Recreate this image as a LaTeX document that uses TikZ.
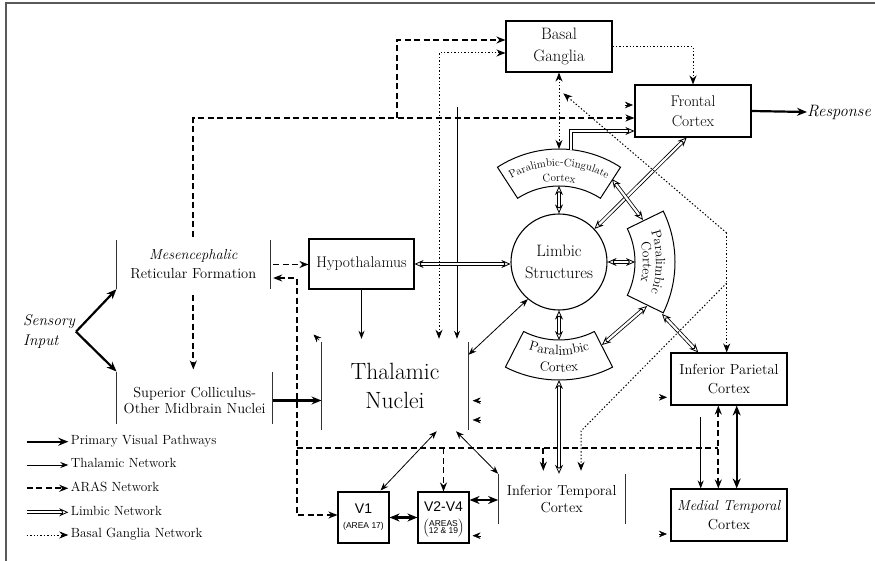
\documentclass[tikz,border=0pt]{standalone}
\usepackage{fontspec}
\newfontfamily\arialish{Liberation Sans}
\usetikzlibrary{arrows.meta,decorations.text,calc}
\newcommand\fmain{\fontsize{14.5}{19}\selectfont}
\newcommand\fbig{\fontsize{23.5}{29}\selectfont}
\newcommand\fleg{\fontsize{13.3}{16}\selectfont}
\newcommand\fcing{\fontsize{11}{13}\selectfont}
\newcommand\fpara{\fontsize{13.5}{15}\selectfont}
\newcommand\fvbig{\arialish\fontsize{14}{16}\selectfont}
\newcommand\fvsmall{\arialish\fontsize{8.5}{9.5}\selectfont}

\begin{document}
\begin{tikzpicture}[x=1pt,y=-1pt,
  >={Stealth[length=9pt,width=7pt]},
  box/.style={draw, line width=1.1pt, inner sep=0pt, align=center, font=\fmain},
  vbox/.style={draw, line width=1.1pt, inner sep=0pt, align=center,
    minimum width=51pt, minimum height=51pt},
  barbox/.style={inner sep=0pt, align=center, font=\fmain},
  barline/.style={line width=1pt, black!80},
  vis/.style={line width=2.2pt, -{Stealth[length=10pt,width=8pt]}},
  visb/.style={line width=2.2pt, {Stealth[length=10pt,width=8pt]}-{Stealth[length=10pt,width=8pt]}},
  thl/.style={line width=0.8pt, -{Stealth[length=8pt,width=6pt]}},
  thlb/.style={line width=0.8pt, {Stealth[length=8pt,width=6pt]}-{Stealth[length=8pt,width=6pt]}},
  aras/.style={line width=1.7pt, dash pattern=on 6pt off 3.5pt},
  limb/.style={double, double distance=2.2pt, line width=0.8pt},
  limbtip/.style={-{Stealth[open,length=9pt,width=8pt]}},
  limbtips/.style={{Stealth[open,length=9pt,width=8pt]}-{Stealth[open,length=9pt,width=8pt]}},
  bgn/.style={line width=1pt, dash pattern=on 1.4pt off 2pt},
  lone/.style={-{Stealth[length=8pt,width=6.5pt]}},
  sector/.style={draw, line width=1pt},
  legtext/.style={anchor=west, font=\fleg, inner sep=0pt, text height=1.6ex, text depth=.3ex},
]
\useasboundingbox (0,0) rectangle (875,561);
\fill[white] (0,0) rectangle (875,561);
% frame
\draw[black!65, line width=1.5pt] (6,561) -- (6,3) -- (875,3);

% ---------- boxes ----------
\node[box, minimum width=106pt, minimum height=51pt, font=\fontsize{16.5}{22}\selectfont] (bg) at (559,46.5) {Basal\\Ganglia};
\node[box, minimum width=116pt, minimum height=52pt, font=\fontsize{15.5}{19.5}\selectfont] (fc) at (693,111) {Frontal\\Cortex};
\node[box, minimum width=105pt, minimum height=50pt, font=\fontsize{15.5}{19}\selectfont] (hyp) at (361.5,264) {Hypothalamus};
\node[box, minimum width=116pt, minimum height=52pt] (ipc) at (729,379) {Inferior Parietal\\Cortex};
\node[box, minimum width=116pt, minimum height=52pt] (mtc) at (729,515) {\textit{Medial Temporal}\\Cortex};
\node[vbox] (v1) at (363.5,517.5) {{\fvbig V1}\\[3pt]{\fvsmall (AREA 17)}};
\node[vbox] (v24) at (443.5,517.5) {};
\node[inner sep=0pt, font=\fvbig] (v24a) at (443.5,507) {V2-V4};
\node[inner sep=0pt, font=\fvsmall] (v24b) at (443.5,528.5)
  {$\left(\begin{tabular}{@{}c@{}}AREAS\\[-2.5pt]12 \& 19\end{tabular}\right)$};
\node[draw, circle, line width=1.1pt, minimum size=96pt, inner sep=0pt, align=center, font=\fontsize{16.5}{22}\selectfont] (lim) at (559,262) {Limbic\\Structures};

% ---------- bracketed regions ----------
\node[barbox, minimum width=153.3pt, minimum height=49pt] (mrf) at (193.3,264.5) {\textit{Mesencephalic}\\Reticular Formation};
\node[barbox, minimum width=156pt, minimum height=51.6pt] (sc) at (194.7,397.5) {};
\node[barbox, font=\fontsize{14.5}{16}\selectfont] (sct) at (194.7,400.5) {Superior Colliculus-\\Other Midbrain Nuclei};
\node[barbox, minimum width=146.6pt, minimum height=88pt, font=\fbig] (thal) at (395,386) {Thalamic\\Nuclei};
\node[barbox, minimum width=126.7pt, minimum height=50pt, font=\fontsize{14.5}{17.5}\selectfont] (itc) at (561.7,499) {Inferior Temporal\\Cortex};
\foreach \n in {mrf,sc,thal,itc}
  \draw[barline] (\n.north west) -- (\n.south west) (\n.north east) -- (\n.south east);

% ---------- free labels ----------
\node[anchor=west, align=left, inner sep=0pt, font=\fontsize{15.5}{20}\selectfont\itshape] (si) at (23,331.7) {Sensory\\Input};
\node[anchor=west, inner sep=0pt, font=\fontsize{16.5}{18}\selectfont\itshape] (resp) at (807,112) {Response};

% ---------- paralimbic sectors ----------
\begin{scope}[shift={(559,262)}]
  \draw[sector] (-57:113) arc[start angle=-57, end angle=-123, radius=113]
     -- (-123:76) arc[start angle=-123, end angle=-57, radius=76] -- cycle;
  \draw[sector] (-26:116) arc[start angle=-26, end angle=26, radius=116]
     -- (26:76) arc[start angle=26, end angle=-26, radius=76] -- cycle;
  \draw[sector] (117:118) arc[start angle=117, end angle=63, radius=118]
     -- (63:78) arc[start angle=63, end angle=117, radius=78] -- cycle;
  \path[decorate, decoration={text along path, text align=center,
      text={|\fcing|Paralimbic-Cingulate}}]
      (-132:96) arc[start angle=-132, end angle=-48, radius=96];
  \path[decorate, decoration={text along path, text align=center,
      text={|\fcing|Cortex}}]
      (-120:80.5) arc[start angle=-120, end angle=-60, radius=80.5];
  \path[decorate, decoration={text along path, text align=center,
      text={|\fpara|Paralimbic}}]
      (-40:97) arc[start angle=-40, end angle=40, radius=97];
  \path[decorate, decoration={text along path, text align=center,
      text={|\fpara|Cortex}}]
      (-40:84) arc[start angle=-40, end angle=40, radius=84];
  \path[decorate, decoration={text along path, text align=center,
      text={|\fpara|Paralimbic}}]
      (125:93) arc[start angle=125, end angle=55, radius=93];
  \path[decorate, decoration={text along path, text align=center,
      text={|\fpara|Cortex}}]
      (120:110) arc[start angle=120, end angle=60, radius=110];
\end{scope}
\coordinate (cinT) at (559,149);
\coordinate (cinB) at (559,186);
\coordinate (cinF) at (571,149.6);
\coordinate (cinR) at (612,179);
\coordinate (rsL) at (635,262);
\coordinate (rsT) at (643,220);
\coordinate (rsB1) at (647,306);
\coordinate (rsB2) at (662,314);
\coordinate (bsT) at (559,340);
\coordinate (bsB) at (559,380);
\coordinate (bsR) at (602,345);

% ---------- primary visual pathways ----------
\coordinate (sin) at (76,331.7);
\draw[vis] (sin) -- (sc.north west);
\draw[vis] (sin) -- (mrf.south west);
\draw[vis] (sc.east |- sct) -- (sct -| thal.west);
\draw[visb] (v1.east) -- (v24.east -| v24.west);
\coordinate (vy) at (0,500);
\draw[visb] (v24.east |- vy) -- (itc.west |- vy);
\coordinate (kx) at (736.7,0);
\draw[visb] (kx |- ipc.south) -- (kx |- mtc.north);
\draw[vis] (fc.east) -- (resp.west);

% ---------- thalamic network ----------
\draw[thl, shorten >=3pt] (hyp.south) -- (hyp.south |- thal.north);
\coordinate (tt) at (457,107);
\draw[thl, shorten >=3pt] (tt) -- (tt |- thal.north);
\draw[thlb] (lim.230) -- ([yshift=-13pt]thal.north east);
\draw[thlb] ([xshift=41.7pt,yshift=-1pt]thal.south) -- ([xshift=-9pt,yshift=1pt]v1.north east);
\draw[thlb] ([xshift=61pt,yshift=-1pt]thal.south) -- (itc.north west);
\coordinate (tm) at (700.7,417);
\draw[thl] (tm) -- (tm |- mtc.north);

% ---------- ARAS network ----------
\draw[aras, ->, shorten <=3pt] (mrf.north) |- ([yshift=-7pt]fc.west);
\coordinate (j1) at (397,118);
\draw[aras, ->] (j1) |- ([yshift=6.5pt]bg.west);
\draw[aras, ->, shorten <=6pt, shorten >=2pt] (mrf.south) -- (mrf.south |- sc.north);
\draw[aras, ->, shorten <=3pt] (mrf.east) -- (mrf.east -| hyp.west);
\coordinate (mrfR) at ([xshift=3pt]mrf.east);
\coordinate (ax) at (296.7,278);
\coordinate (v1in) at ([yshift=2.5pt]v1.west);
\draw[aras, <->] (mrfR |- ax) -- (ax) -- (ax |- v1in) -- (v1in);
\coordinate (hy) at (0,448.3);
\coordinate (hR) at (718.3,448.3);
\draw[aras] (ax |- hy) -- (hR);
\draw[aras, ->] (v24.north |- hy) -- (v24.north);
\coordinate (hI) at (543.3,448.3);
\draw[aras, ->, shorten >=3pt] (hI) -- (hI |- itc.north);
\draw[aras, <->] (hR |- ipc.south) -- (hR |- mtc.north);

% ---------- limbic network ----------
\draw[limb, limbtips] (hyp.east) -- (lim.west |- hyp.east);
\draw[limb, limbtips] (cinB) -- (lim.north);
\draw[limb, limbtip] (cinF) |- ([yshift=-20pt]fc.west);
\draw[limb, limbtips] (lim.43) -- ([xshift=-6.3pt]fc.south);
\draw[limb, limbtips] (cinR) -- (rsT);
\draw[limb, limbtips] (lim.east) -- (rsL);
\draw[limb, limbtips] (rsB1) -- (bsR);
\draw[limb, limbtips] (rsB2) -- ([xshift=-30.7pt]ipc.north);
\draw[limb, limbtips] (lim.south) -- (bsT);
\draw[limb, limbtips] (bsB) -- (bsB |- itc.north);

% ---------- basal ganglia network ----------
\draw[bgn, ->] (bg.east) -| (fc.north);
\draw[bgn, <->, shorten >=3pt] ([yshift=-6.5pt]bg.west) -| ([xshift=44pt]thal.north);
\draw[bgn, <->] (bg.south) -- (cinT);
\coordinate (dbg) at (563.3,93.3);
\coordinate (dj1) at (726.7,233);
\coordinate (dj2) at (726.7,283);
\coordinate (dk) at (581,431);
\draw[bgn, ->] (dj1) -- (dbg);
\draw[bgn, ->] (dj1) -- (dj1 |- ipc.north);
\draw[bgn, ->, shorten >=3pt] (dj2) -- (dk) -- (dk |- itc.north);

% ---------- loose arrowheads ----------
\coordinate (sa1) at (313.5,334.5);
\draw[lone] ($(sa1)+(5.66,5.66)$) -- (sa1);
\foreach \p in {(472.7,400.7),(472.7,420),(472.5,535.7)}
  \draw[lone] \p ++(8,0) -- \p;
\foreach \p in {(667,397.3),(667,534),(633,105)}
  \draw[lone] \p ++(-8,0) -- \p;

% ---------- legend ----------
\foreach \y/\s/\t in {441.7/vis/Primary Visual Pathways, 465/thl/Thalamic Network}
  {\coordinate (la) at (26.7,\y); \coordinate (lb) at (68.3,\y);
   \draw[\s] (la) -- (lb); \node[legtext] at (70.7,\y) {\t};}
\coordinate (la3) at (26.7,488.3); \coordinate (lb3) at (68.3,488.3);
\draw[aras, ->] (la3) -- (lb3);
\node[legtext] (lt3) at (70.7,488.3) {ARAS Network};
\coordinate (la4) at (26.7,512.3); \coordinate (lb4) at (68.3,512.3);
\draw[limb, limbtip] (la4) -- (lb4);
\node[legtext] (lt4) at (70.7,512.3) {Limbic Network};
\coordinate (la5) at (26.7,535); \coordinate (lb5) at (68.3,535);
\draw[bgn, ->] (la5) -- (lb5);
\node[legtext] (lt5) at (70.7,535) {Basal Ganglia Network};
\end{tikzpicture}
\end{document}
